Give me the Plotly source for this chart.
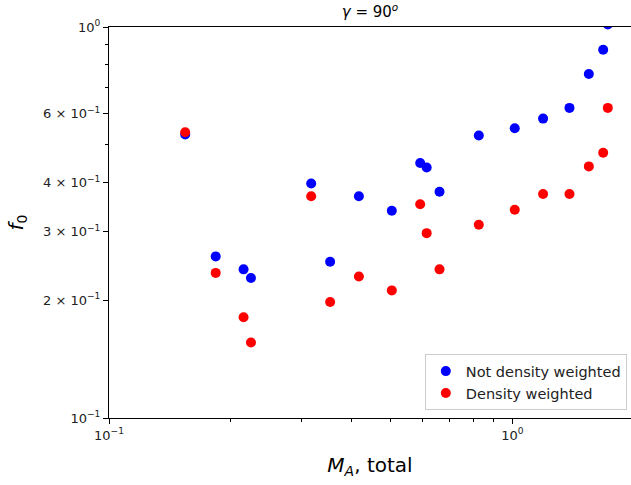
import plotly.graph_objects as go

# Alfven Mach number (total) and f_0 values
mach_a = [0.1545, 0.1839, 0.2156, 0.2249, 0.3172, 0.3534, 0.4165, 0.5026, 0.591,
          0.6133, 0.660, 0.826, 1.014, 1.192, 1.386, 1.548, 1.680, 1.725]
f0_plain = [0.531, 0.259, 0.240, 0.228, 0.398, 0.251, 0.369, 0.339, 0.449,
            0.437, 0.379, 0.528, 0.551, 0.583, 0.621, 0.758, 0.875, 1.015]
f0_density = [0.538, 0.235, 0.181, 0.156, 0.369, 0.198, 0.230, 0.212, 0.352,
              0.297, 0.240, 0.312, 0.341, 0.374, 0.374, 0.440, 0.477, 0.621]

y_ticks = [0.1, 0.2, 0.3, 0.4, 0.6, 1.0]
y_ticktext = ["10<sup>−1</sup>", "2 × 10<sup>−1</sup>", "3 × 10<sup>−1</sup>",
              "4 × 10<sup>−1</sup>", "6 × 10<sup>−1</sup>", "10<sup>0</sup>"]
x_ticks = [0.1, 1.0]
x_ticktext = ["10<sup>−1</sup>", "10<sup>0</sup>"]

FONT = "DejaVu Sans"

fig = go.Figure()
fig.add_trace(go.Scatter(x=mach_a, y=f0_plain, mode="markers",
                         name="Not density weighted", cliponaxis=True,
                         marker=dict(color="#0000ff", size=10)))
fig.add_trace(go.Scatter(x=mach_a, y=f0_density, mode="markers",
                         name="Density weighted", cliponaxis=True,
                         marker=dict(color="#ff0000", size=10)))

axis_common = dict(
    type="log", showgrid=False, zeroline=False,
    showline=True, linecolor="black", linewidth=1, mirror=True,
    ticks="outside", ticklen=5, tickcolor="black", tickmode="array",
    tickfont=dict(family=FONT, size=13, color="#222"),
)
fig.update_xaxes(
    range=[-1, 0.2943], tickvals=x_ticks, ticktext=x_ticktext,
    minor=dict(tickmode="array", tickvals=[0.2, 0.3, 0.4, 0.5, 0.6, 0.7, 0.8, 0.9],
               ticks="outside", ticklen=3, tickcolor="black"),
    title=dict(text="<i>M</i><sub><i>A</i></sub>, total", standoff=16,
               font=dict(family=FONT, size=20, color="black")),
    **axis_common,
)
fig.update_yaxes(
    range=[-1, 0], tickvals=y_ticks, ticktext=y_ticktext,
    minor=dict(tickmode="array", tickvals=[0.5, 0.7, 0.8, 0.9],
               ticks="outside", ticklen=3, tickcolor="black"),
    title=dict(text="<i>f</i><sub>0</sub>", standoff=14,
               font=dict(family=FONT, size=20, color="black")),
    **axis_common,
)
fig.update_layout(
    width=631, height=485,
    margin=dict(l=109, r=0, t=27, b=67),
    paper_bgcolor="white", plot_bgcolor="white",
    font=dict(family=FONT, color="black"),
    title=dict(text="<i>γ</i> = 90<sup><i>o</i></sup>", x=370 / 631,
               xanchor="center", y=0.975, yanchor="middle",
               font=dict(family=FONT, size=15, color="black")),
    legend=dict(x=0.992, y=0.02, xanchor="right", yanchor="bottom",
                bgcolor="white", bordercolor="#cccccc", borderwidth=1,
                font=dict(family=FONT, size=14.5, color="#222"),
                itemwidth=30, tracegroupgap=0),
    showlegend=True,
)

fig.write_html("out.html", config={"displayModeBar": False},
               post_script="document.body.style.margin='0';")
